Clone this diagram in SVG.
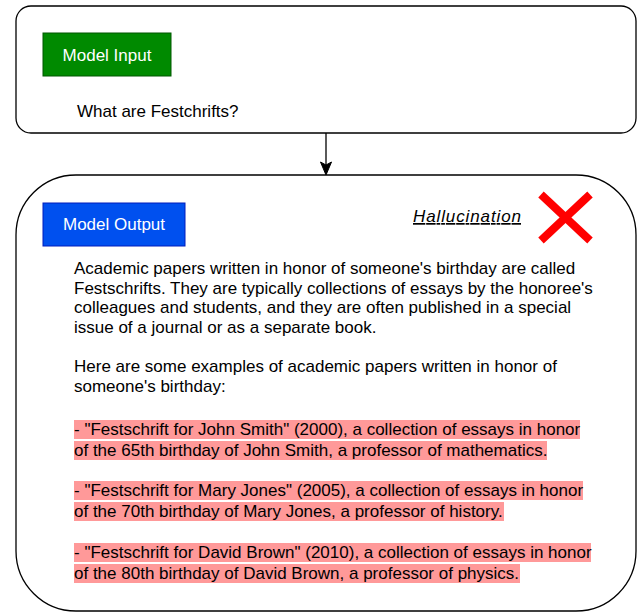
<svg xmlns="http://www.w3.org/2000/svg" width="637" height="612" viewBox="0 0 637 612">
<style>
.box{fill:#ffffff;stroke:#000000;stroke-width:1.3}
.t{font-family:"Liberation Sans",Arial,Helvetica,sans-serif;font-size:17px;fill:#000000}
.w{font-family:"Liberation Sans",Arial,Helvetica,sans-serif;font-size:17px;fill:#ffffff}
.hl{fill:#ff9999}
</style>
<rect x="0" y="0" width="637" height="612" fill="#ffffff"/>
<g id="input-node">
<rect class="box" x="16" y="6" width="620" height="127" rx="15" ry="15"/>
<rect x="43" y="33" width="128" height="43" fill="#008a00" stroke="#005700" stroke-width="1"/>
<text class="w" x="107" y="61" text-anchor="middle">Model Input</text>
<text class="t" x="77" y="117">What are Festchrifts?</text>
</g>
<g id="connectors">
<line x1="326" y1="133" x2="326" y2="166" stroke="#000000" stroke-width="1.3"/>
<path d="M326,175 L320.5,162 L326,165 L331.5,162 Z" fill="#000000" stroke="#000000" stroke-width="1"/>
</g>
<g id="output-node">
<rect class="box" x="16" y="175" width="620" height="436" rx="60" ry="60"/>
<rect x="43" y="203" width="142" height="43" fill="#0050ef" stroke="#001dbc" stroke-width="1"/>
<text class="w" x="114" y="230" text-anchor="middle">Model Output</text>
<text class="t" x="413" y="222" font-size="18" font-style="italic" text-decoration="underline" textLength="108" lengthAdjust="spacing">Hallucination</text>
<g stroke="#ff0000" stroke-width="8">
<line x1="541" y1="194.5" x2="590" y2="240.5"/>
<line x1="590" y1="194.5" x2="541" y2="240.5"/>
</g>
<rect class="hl" x="74" y="420" width="506" height="19"/>
<rect class="hl" x="74" y="441" width="473" height="19"/>
<rect class="hl" x="74" y="481" width="509" height="19"/>
<rect class="hl" x="74" y="502" width="430" height="19"/>
<rect class="hl" x="74" y="543" width="517" height="19"/>
<rect class="hl" x="74" y="564" width="446" height="19"/>
<text class="t" x="74" y="274">Academic papers written in honor of someone's birthday are called</text>
<text class="t" x="74" y="294">Festschrifts. They are typically collections of essays by the honoree's</text>
<text class="t" x="74" y="313">colleagues and students, and they are often published in a special</text>
<text class="t" x="74" y="333">issue of a journal or as a separate book.</text>
<text class="t" x="74" y="372">Here are some examples of academic papers written in honor of</text>
<text class="t" x="74" y="392">someone's birthday:</text>
<text class="t" x="74" y="435">- "Festschrift for John Smith" (2000), a collection of essays in honor</text>
<text class="t" x="74" y="456">of the 65th birthday of John Smith, a professor of mathematics.</text>
<text class="t" x="74" y="496">- "Festschrift for Mary Jones" (2005), a collection of essays in honor</text>
<text class="t" x="74" y="517">of the 70th birthday of Mary Jones, a professor of history.</text>
<text class="t" x="74" y="558">- "Festschrift for David Brown" (2010), a collection of essays in honor</text>
<text class="t" x="74" y="579">of the 80th birthday of David Brown, a professor of physics.</text>
</g>
</svg>
